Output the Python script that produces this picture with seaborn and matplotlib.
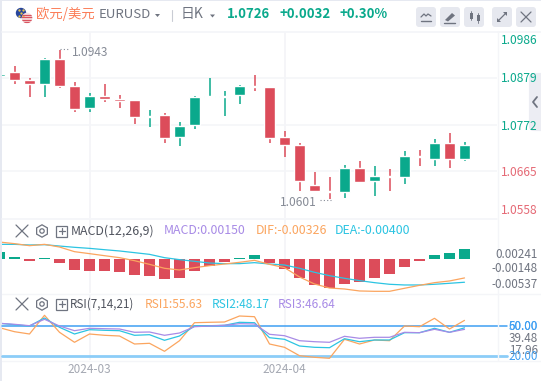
import numpy as np
import pandas as pd
import matplotlib
matplotlib.use("Agg")
import matplotlib.pyplot as plt
from matplotlib.patches import Circle, FancyBboxPatch, Polygon, Rectangle, RegularPolygon
import seaborn as sns

open_ = [1.0884, 1.0893, 1.0874, 1.0865, 1.0923, 1.0861, 1.0810, 1.0838, 1.0831, 1.0828, 1.0789, 1.0794, 1.0743, 1.0771, 1.0835, 1.0836,
         1.0840, 1.0861, 1.0858, 1.0743, 1.0725, 1.0633, 1.0621, 1.0617, 1.0672, 1.0642, 1.0654, 1.0651, 1.0700, 1.0693, 1.0730, 1.0694]
high = [1.0888, 1.0907, 1.0879, 1.0925, 1.0943, 1.0870, 1.0844, 1.0865, 1.0840, 1.0828, 1.0805, 1.0798, 1.0778, 1.0838, 1.0879, 1.0849,
        1.0863, 1.0886, 1.0858, 1.0757, 1.0730, 1.0663, 1.0651, 1.0679, 1.0688, 1.0677, 1.0670, 1.0711, 1.0713, 1.0739, 1.0752, 1.0732]
low = [1.0884, 1.0865, 1.0835, 1.0835, 1.0856, 1.0801, 1.0801, 1.0824, 1.0810, 1.0773, 1.0766, 1.0730, 1.0723, 1.0762, 1.0835, 1.0792,
       1.0819, 1.0849, 1.0730, 1.0697, 1.0619, 1.0617, 1.0601, 1.0603, 1.0640, 1.0608, 1.0621, 1.0635, 1.0677, 1.0677, 1.0672, 1.0690]
close = [1.0888, 1.0874, 1.0865, 1.0923, 1.0861, 1.0808, 1.0838, 1.0831, 1.0826, 1.0789, 1.0792, 1.0741, 1.0769, 1.0835, 1.0838, 1.0838,
         1.0861, 1.0858, 1.0741, 1.0725, 1.0642, 1.0621, 1.0617, 1.0672, 1.0640, 1.0654, 1.0651, 1.0700, 1.0697, 1.0730, 1.0693, 1.0726]

hist = [0.00120, 0.00029, -0.00029, 0.00012, -0.00069, -0.00189, -0.00206, -0.00206, -0.00224, -0.00275, -0.00292, -0.00344, -0.00327, -0.00206, -0.00126, -0.00052,
        0.00017, 0.00069, -0.00069, -0.00172, -0.00327, -0.00447, -0.00499, -0.00430, -0.00396, -0.00327, -0.00258, -0.00138, -0.00034, 0.00069, 0.00103, 0.00172]
dif = [0.00292, 0.00264, 0.00229, 0.00252, 0.00206, 0.00126, 0.00092, 0.00057, 0.00023, -0.00029, -0.00092, -0.00160, -0.00189, -0.00149, -0.00115, -0.00086,
       -0.00057, -0.00023, -0.00092, -0.00149, -0.00309, -0.00430, -0.00499, -0.00516, -0.00550, -0.00556, -0.00556, -0.00504, -0.00453, -0.00407, -0.00378, -0.00326]
dea = [0.00252, 0.00252, 0.00241, 0.00246, 0.00223, 0.00201, 0.00183, 0.00160, 0.00138, 0.00109, 0.00080, 0.00023, -0.00011, -0.00040, -0.00069, -0.00080,
       -0.00080, -0.00063, -0.00086, -0.00103, -0.00160, -0.00229, -0.00287, -0.00332, -0.00372, -0.00407, -0.00435, -0.00447, -0.00447, -0.00435, -0.00418, -0.00400]

rsi1 = [48.3, 44.3, 42.0, 60.7, 43.7, 33.7, 42.0, 40.7, 40.0, 32.0, 32.7, 24.7, 35.3, 53.3, 53.7, 54.0,
        60.0, 59.3, 32.0, 28.7, 20.3, 18.7, 17.7, 36.7, 32.0, 36.0, 35.3, 50.0, 49.3, 57.7, 47.0, 55.63]
rsi2 = [52.7, 51.3, 50.0, 58.0, 48.7, 42.0, 46.3, 45.7, 45.3, 40.7, 41.3, 35.7, 40.0, 50.0, 50.3, 50.7,
        53.7, 53.3, 38.3, 36.7, 30.0, 28.7, 28.3, 37.3, 34.3, 36.0, 36.0, 43.3, 43.3, 47.7, 43.7, 48.17]
rsi3 = [52.7, 51.7, 50.3, 56.7, 50.0, 45.3, 47.7, 47.3, 47.0, 43.7, 44.0, 40.7, 43.0, 49.3, 50.0, 50.7,
        52.3, 52.0, 41.7, 40.3, 35.3, 34.3, 33.7, 39.7, 37.7, 38.7, 38.7, 43.7, 43.3, 46.7, 43.7, 46.64]

month_ticks = [6, 19]
month_labels = ["2024-03", "2024-04"]
price_grid = [1.0879, 1.0772, 1.0665]
price_labels = ["1.0986", "1.0879", "1.0772", "1.0665", "1.0558"]
macd_labels = ["0.00241", "-0.00148", "-0.00537"]

GREEN = "#0aa98c"
RED = "#dc4c5a"
ORANGE = "#fba55f"
CYAN = "#2cc4e2"
PURPLE = "#a88be6"
BLUE = "#3f9ff2"
GRID = "#f4f5f8"
GRAY = "#6f7480"

sns.set_theme(style="white")
plt.rcParams["font.family"] = ["Noto Sans CJK SC", "DejaVu Sans"]

W, H = 541, 381
XLIM = (2.5 / 15, 497.5 / 15)
idx = np.arange(len(close))
df = pd.DataFrame({"i": idx, "open": open_, "high": high, "low": low, "close": close, "hist": hist,
                   "dif": dif, "dea": dea, "rsi1": rsi1, "rsi2": rsi2, "rsi3": rsi3})
df["up"] = df["close"] >= df["open"]
df["hist_up"] = df["hist"] >= 0
colors = np.where(df["up"], GREEN, RED)

fig = plt.figure(figsize=(W / 100, H / 100), dpi=100, facecolor="#e6e9f1")


def panel(top, bottom, left=2, right=497):
    a = fig.add_axes([left / W, 1 - bottom / H, (right - left) / W, (bottom - top) / H])
    a.set_xlim(*XLIM)
    a.set_facecolor("white")
    for s in a.spines.values():
        s.set_visible(False)
    a.set_yticks([])
    a.set_xticks([])
    return a


# white page behind the panels
bg = fig.add_axes([2 / W, 0, 1 - 2 / W, 1 - 1 / H], facecolor="white")
bg.set_xticks([])
bg.set_yticks([])
for s in bg.spines.values():
    s.set_visible(False)

# candles
ax = panel(32, 218)
ax.set_ylim(1.05580, 1.09850)
ax.hlines(price_grid, 0, 34, color=GRID, lw=1.1, zorder=0)
ax.vlines(month_ticks, 1.05, 1.10, color=GRID, lw=1.3, zorder=0)
ax.vlines(df["i"], df["low"], df["high"], color=colors, lw=1.1, zorder=2)
ax.bar(df["i"], (df["close"] - df["open"]).abs().clip(lower=0.00022), bottom=df[["open", "close"]].min(axis=1),
       width=0.73, color=colors, zorder=3)

# macd
ax2 = panel(219, 293)
sns.barplot(data=df, x="i", y="hist", hue="hist_up", palette={True: GREEN, False: RED}, native_scale=True,
            dodge=False, width=0.67, saturation=1, linewidth=0, legend=False, ax=ax2, zorder=2)
sns.lineplot(data=df, x="i", y="dea", color=CYAN, lw=0.9, ax=ax2, zorder=3)
sns.lineplot(data=df, x="i", y="dif", color=ORANGE, lw=0.9, ax=ax2, zorder=4)
ax2.vlines(month_ticks, -1, 1, color=GRID, lw=1.3, zorder=0)
ax2.set_xlim(*XLIM)
ax2.set_ylim(-0.00585, 0.00688)
ax2.set_xlabel("")
ax2.set_ylabel("")
ax2.set_xticks([])
ax2.set_yticks([])

# rsi
ax3 = panel(294, 360)
ax3.vlines(month_ticks, 0, 100, color=GRID, lw=1.3, zorder=0)
ax3.plot([XLIM[0], 507 / 15], [20, 20], color="#8ccdf8", lw=2.0, clip_on=False, zorder=2)
ax3.plot([XLIM[0], 507 / 15], [50, 50], color=BLUE, lw=1.1, clip_on=False, zorder=2)
sns.lineplot(data=df, x="i", y="rsi1", color=ORANGE, lw=0.9, ax=ax3, zorder=3)
sns.lineplot(data=df, x="i", y="rsi2", color=CYAN, lw=0.9, ax=ax3, zorder=4)
sns.lineplot(data=df, x="i", y="rsi3", color=PURPLE, lw=0.9, ax=ax3, zorder=5)
ax3.set_xlim(*XLIM)
ax3.set_ylim(16, 82)
ax3.set_xlabel("")
ax3.set_ylabel("")
ax3.set_yticks([])
ax3.set_xticks(month_ticks, month_labels, fontsize=8.5, color="#a4a8b2")
ax3.tick_params(axis="x", length=0, pad=2)

# overlay in pixel coordinates for the header and the side labels
ov = fig.add_axes([0, 0, 1, 1], facecolor="none", zorder=10)
ov.set_xlim(0, W)
ov.set_ylim(H, 0)
ov.axis("off")


def txt(x, y, s, color=GRAY, size=8.5, ha="left", weight="normal"):
    ov.text(x, y, s, color=color, fontsize=size, ha=ha, va="center", fontweight=weight)


ov.plot([2, 541], [31.5, 31.5], color=GRID, lw=1.2)
ov.plot([2, 497], [218.5, 218.5], color=GRID, lw=1.2)
ov.plot([2, 541], [293.5, 293.5], color=GRID, lw=1.0)
ov.plot([2, 541], [360.5, 360.5], color=GRID, lw=1.0)
ov.plot([497.5, 497.5], [0 + 31, 360], color=GRID, lw=1.0)

# side tab
ov.add_patch(FancyBboxPatch((531, 75), 20, 54, boxstyle="round,pad=0,rounding_size=3", fc="#ecedf3", ec="#ecedf3", lw=3, zorder=0))
ov.plot([537, 533, 537], [97, 102, 107], color=GRAY, lw=1.3)

# flags
ov.add_patch(Circle((21, 13), 5.2, fc="#27459b", ec="none"))
ov.plot([19, 23, 21, 19, 23], [10, 10, 13, 16, 16], ls="none", marker=".", ms=1.3, color="#e7c84b")
usa = Circle((27, 18), 5.3, fc="#f6dfe0", ec="none")
ov.add_patch(usa)
for yy in [14.5, 17, 19.5, 22]:
    s_line, = ov.plot([21, 33], [yy, yy], color="#d9535f", lw=0.9)
    s_line.set_clip_path(usa)

txt(36, 14, "欧元/美元", "#fb7d58", 9.6)
txt(99, 15, "EURUSD", GRAY, 9.5)
ov.add_patch(Polygon([[155, 14], [160, 14], [157.5, 17]], fc=GRAY, ec="none"))
ov.plot([171.5, 171.5], [10, 21], color="#c9ccd4", lw=0.8)
txt(181, 14, "日K", GRAY, 10)
ov.add_patch(Polygon([[210, 14.5], [215, 14.5], [212.5, 17.5]], fc=GRAY, ec="none"))
txt(227, 14, "1.0726", GREEN, 9.5, weight="bold")
txt(279, 14, "+0.0032", GREEN, 9.5, weight="bold")
txt(340, 14, "+0.30%", GREEN, 9.5, weight="bold")

# header buttons
for bx in [416, 440, 464, 492, 516]:
    ov.add_patch(FancyBboxPatch((bx, 7), 20, 20, boxstyle="round,pad=0,rounding_size=3", fc="#e6e8ef", ec="none"))
ov.plot([421, 424, 426, 428, 431], [17, 14, 16, 14, 16], color=GRAY, lw=0.9)
ov.plot([421, 431], [21, 21], color=GRAY, lw=1.0)
ov.add_patch(Polygon([[445, 20], [452, 13], [455, 15.5], [448, 21.5]], fc=GRAY, ec="none"))
ov.plot([444, 455], [22.5, 22.5], color=GRAY, lw=1.0)
ov.add_patch(Rectangle((469.5, 12.5), 3, 6, fc=GRAY, ec="none"))
ov.add_patch(Rectangle((476.5, 15), 3, 6, fc=GRAY, ec="none"))
ov.plot([471, 471], [11, 20], color=GRAY, lw=0.6)
ov.plot([478, 478], [13, 23], color=GRAY, lw=0.6)
ov.plot([498, 506], [21, 13], color=GRAY, lw=0.9)
ov.add_patch(Polygon([[497, 22], [497, 18], [501, 22]], fc=GRAY, ec="none"))
ov.add_patch(Polygon([[507, 12], [503, 12], [507, 16]], fc=GRAY, ec="none"))
ov.plot([521, 531], [12, 22], color=GRAY, lw=0.9)
ov.plot([521, 531], [22, 12], color=GRAY, lw=0.9)

# price labels
for yy, s, c in zip([40, 79, 126, 173, 210], price_labels, [GREEN, GREEN, GREEN, "#e56a76", "#e56a76"]):
    txt(501, yy, s, c, 8.6)
txt(72, 52, "1.0943", "#868b96", 8.6)
txt(280, 202, "1.0601", "#868b96", 8.6)
ov.plot([60, 70], [49, 49], color="#868b96", lw=0.8, ls=(0, (1, 2)))
ov.plot([320, 331], [200, 200], color="#868b96", lw=0.8, ls=(0, (1, 2)))


def tools(y):
    ov.plot([16, 28], [y - 6, y + 6], color=GRAY, lw=0.9)
    ov.plot([16, 28], [y + 6, y - 6], color=GRAY, lw=0.9)
    ov.add_patch(RegularPolygon((42, y), 6, radius=6.2, fc="none", ec=GRAY, lw=0.9))
    ov.add_patch(Circle((42, y), 2.2, fc="none", ec=GRAY, lw=0.9))
    ov.add_patch(Rectangle((56, y - 5.5), 11, 11, fc="none", ec=GRAY, lw=0.9))
    ov.plot([58.5, 64.5], [y, y], color=GRAY, lw=0.9)
    ov.plot([61.5, 61.5], [y - 3, y + 3], color=GRAY, lw=0.9)


tools(231)
txt(71, 231, "MACD(12,26,9)", "#50545e", 8.9)
txt(164, 231, "MACD:0.00150", PURPLE, 8.9)
txt(256, 231, "DIF:-0.00326", ORANGE, 8.9)
txt(335, 231, "DEA:-0.00400", CYAN, 8.9)

tools(304)
txt(70, 304, "RSI(7,14,21)", "#50545e", 8.4)
txt(145, 304, "RSI1:55.63", ORANGE, 8.6)
txt(212, 304, "RSI2:48.17", CYAN, 8.6)
txt(278, 304, "RSI3:46.64", PURPLE, 8.6)

for yy, s in zip([254, 269, 285], macd_labels):
    txt(538, yy, s, GRAY, 8.4, ha="right")
txt(538, 339, "39.48", GRAY, 8.4, ha="right")
txt(538, 350, "17.96", GRAY, 8.4, ha="right")
txt(538, 326, "60.00", BLUE, 8.4, ha="right")
txt(538, 326, "50.00", BLUE, 8.4, ha="right")
txt(538, 357, "20.00", BLUE, 8.4, ha="right")

fig.savefig("out.png", dpi=100, facecolor=fig.get_facecolor())
